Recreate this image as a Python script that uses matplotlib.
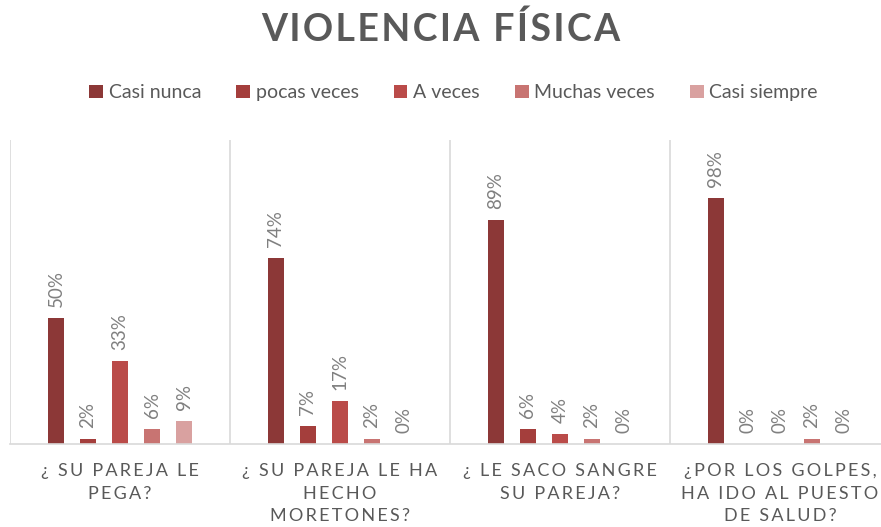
import matplotlib.pyplot as plt
import numpy as np

plt.rcParams['font.family'] = ['Lato', 'DejaVu Sans']

# data
preguntas = ['¿ SU PAREJA LE\nPEGA?',
             '¿ SU PAREJA LE HA\nHECHO\nMORETONES?',
             '¿ LE SACO SANGRE\nSU PAREJA?',
             '¿POR LOS GOLPES,\nHA IDO AL PUESTO\nDE SALUD?']
respuestas = ['Casi nunca', 'pocas veces', 'A veces', 'Muchas veces', 'Casi siempre']
casi_nunca = [0.50, 0.74, 0.89, 0.98]
pocas_veces = [0.02, 0.07, 0.06, 0.00]
a_veces = [0.33, 0.17, 0.04, 0.00]
muchas_veces = [0.06, 0.02, 0.02, 0.02]
casi_siempre = [0.09, 0.00, 0.00, 0.00]
series = [casi_nunca, pocas_veces, a_veces, muchas_veces, casi_siempre]

colores = ['#8C3837', '#A43E3C', '#BA4B49', '#C87472', '#D9A1A0']
gris = '#595959'


def spaced(s, sep='\u2009'):
    # fake the letter spacing of the original
    return '\n'.join(sep.join(line) for line in s.split('\n'))


fig = plt.figure(figsize=(8.81, 5.27), dpi=100)
ax = fig.add_axes([10 / 881, 83 / 527, 880 / 881, 304 / 527])

x = np.arange(len(preguntas))
w = 0.077
step = 0.1455
for i, (vals, nombre, c) in enumerate(zip(series, respuestas, colores)):
    pos = x + (i - 2) * step
    ax.bar(pos, vals, w, color=c, label=nombre)
    for p, v in zip(pos, vals):
        ax.annotate('%d%%' % round(v * 100), (p, v), xytext=(0, 8),
                    textcoords='offset points', rotation=90, ha='center',
                    va='bottom', fontsize=13.5, color='#808080')

ax.set_xlim(-0.5, 3.5)
ax.set_ylim(0, 1.21)
for s in ['top', 'right', 'left']:
    ax.spines[s].set_visible(False)
ax.spines['bottom'].set_color('#D9D9D9')
ax.spines['bottom'].set_linewidth(1.2)
for b in [-0.5, 0.5, 1.5, 2.5, 3.5]:
    ax.axvline(b, color='#D9D9D9', lw=1.2)
ax.set_yticks([])
ax.set_xticks(x)
ax.set_xticklabels([spaced(p) for p in preguntas], fontsize=13,
                   color=gris, linespacing=1.5)
ax.tick_params(axis='x', length=0, pad=14)

fig.text(0.5, 0.945, spaced('VIOLENCIA FÍSICA', '\u200a'), ha='center',
         va='center', fontsize=27, fontweight='bold', color=gris)
fig.legend(loc='center', bbox_to_anchor=(0.515, 0.824), ncol=5, frameon=False,
           fontsize=14, handlelength=0.7, handleheight=0.7, handletextpad=0.3,
           columnspacing=1.8, labelcolor=gris)

fig.savefig('out.png', dpi=100)
